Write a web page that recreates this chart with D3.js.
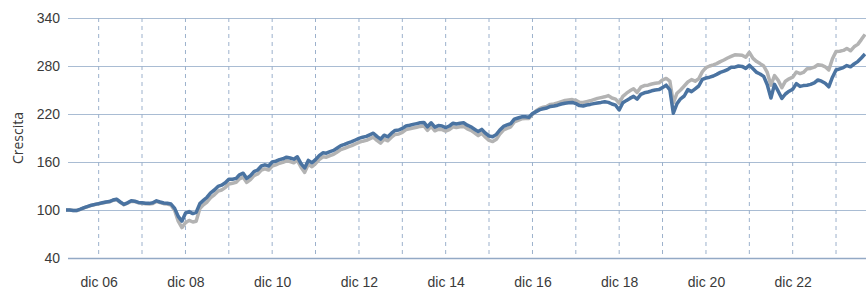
<!DOCTYPE html>
<html>
<head>
<meta charset="utf-8">
<script src="https://cdn.jsdelivr.net/npm/d3@7"></script>
<style>
  body { margin: 0; background: #fff; }
  svg { display: block; font-family: "Open Sans", sans-serif; }
</style>
</head>
<body>
<svg></svg>
<script>
// monthly values, Mar 2006 .. Aug 2024
const fundValues = [
  100, 100, 99.5, 99.5, 101, 103, 104.5, 106, 107, 108,                      // 2006
  109, 110, 110.5, 112.5, 113.5, 110, 107, 109, 111.5, 111, 109.5, 109,      // 2007
  108.5, 108.3, 109, 111.5, 110, 108.8, 108.5, 107.5, 102, 92, 86, 96,       // 2008
  98, 95.5, 97, 108, 112, 116, 121.5, 125, 129.5, 131, 134, 138.5,           // 2009
  138.5, 139.5, 144, 146, 139.5, 143, 148, 150, 155, 156.5, 155, 160,        // 2010
  161, 163, 164, 166, 165, 163.5, 166.5, 158, 152.5, 162, 159, 163,          // 2011
  168, 171.5, 171, 173, 174.5, 177.5, 180.5, 182, 184, 185.4, 187.5, 189.6,  // 2012
  191, 192, 194, 196, 192, 188.5, 193.5, 191.5, 196, 199.5, 200, 202,        // 2013
  205, 206, 207, 208, 209, 209.5, 204, 209, 203.5, 205.5, 205, 203,          // 2014
  205, 208.5, 207.5, 208.5, 209, 206, 204, 201, 198, 200.8, 196, 192.5,      // 2015
  191.5, 194.5, 200, 204.5, 206.3, 208, 213.5, 215, 216.5, 216.5, 216, 220.5,// 2016
  223, 225.5, 226.5, 227.5, 229.5, 230, 231, 232.5, 233.5, 234, 234.5, 233,  // 2017
  230.5, 230, 231.3, 232, 233, 233.8, 234.5, 235.4, 234.5, 232.5, 231, 225,  // 2018
  234, 237, 239.5, 242, 238.5, 244.5, 246.5, 247.5, 249, 250, 250.5, 253,    // 2019
  256, 250, 221, 233, 239, 242.5, 250.5, 248, 251.5, 255, 263.4, 265,        // 2020
  266, 267.5, 269.5, 272, 273.5, 275.5, 278.5, 278.5, 280, 279.5, 277, 281,  // 2021
  276.5, 272, 270, 267, 256.5, 240, 257, 248.5, 239.5, 245, 248.5, 251,      // 2022
  258, 254.5, 255.5, 256, 257, 259, 262.5, 261, 258.5, 254, 266, 275,        // 2023
  276.5, 278, 280.5, 279, 282.5, 285.5, 290, 295                             // 2024
];

const benchValues = [
  100, 100, 99.5, 99.3, 100.8, 102.8, 104.2, 105.8, 106.8, 107.7,
  108.7, 109.6, 110.2, 112.1, 113.1, 109.6, 106.6, 108.5, 111, 110.5, 109, 108.4,
  107.8, 107.5, 108.2, 110.8, 109.2, 107.9, 107.5, 106.3, 99.5, 86, 78, 84,
  87, 85, 86, 102, 106.5, 110, 115.5, 119, 123.5, 125, 128, 132.5,
  133.5, 134.5, 139, 141, 134.5, 138, 143, 145, 150, 151.5, 150, 155,
  156.5, 158.5, 159.5, 161.5, 160.5, 159, 162, 153.5, 147, 157, 154, 158,
  163, 166.5, 166, 168, 169.5, 172.5, 175.5, 177, 179, 180.4, 182.5, 184.6,
  186, 187, 189, 191, 187, 183.5, 188.5, 186.5, 191, 194.5, 195, 197,
  200.5, 201.5, 202.5, 203.5, 204.5, 205, 199.5, 204.5, 199, 201, 200.5, 198.5,
  200.5, 204, 203, 204, 204.5, 201.5, 199.5, 196.5, 193, 196, 191, 187,
  185.5, 188.5, 195, 200, 202, 204, 210, 212, 214, 214.5, 214.5, 219.5,
  224, 227, 228.5, 229.5, 232, 232.5, 234, 235.5, 237, 237.5, 238, 237,
  234.5, 234.5, 235.5, 236.5, 238, 239.5, 240.5, 241.5, 243, 240, 238.5, 233.5,
  242, 246, 249, 251.5, 247, 253.5, 255.5, 256, 257.5, 258.4, 259, 262.5,
  264.5, 261, 234, 246, 250, 255, 260, 263, 261, 264, 273, 278,
  280, 281.5, 283, 285.5, 287.5, 290, 292, 294, 293.8, 293.5, 291, 297,
  289.5, 285.5, 283, 280, 272, 256, 268, 262, 253, 261, 264, 266,
  272.5, 270.5, 272, 276.5, 277, 278.5, 281.5, 281, 279, 275, 289, 298,
  298.5, 299.5, 302, 299, 304, 307, 313, 319.5
];

const yTicks = [40, 100, 160, 220, 280, 340];
const gridYears = d3.range(2006, 2024);          // dashed line each December
const labelYears = [2006, 2008, 2010, 2012, 2014, 2016, 2018, 2020, 2022];

const months = d3.timeMonth.range(new Date(2006, 2, 1), new Date(2024, 8, 1));

const margin = { top: 18, right: 0, bottom: 33, left: 68 },
      width = 866 - margin.left - margin.right,
      height = 291 - margin.top - margin.bottom;

const svg = d3.select("svg")
    .attr("width", width + margin.left + margin.right)
    .attr("height", height + margin.top + margin.bottom)
    .append("g")
    .attr("transform", `translate(${margin.left},${margin.top})`);

const x = d3.scaleTime()
    .domain([months[0], months[months.length - 1]])
    .range([-2, width - 1]);

const y = d3.scaleLinear()
    .domain([40, 340])
    .range([height, 0]);

// horizontal grid + y labels
const yAxis = svg.append("g")
    .call(d3.axisLeft(y).tickValues(yTicks).tickSize(-width).tickPadding(8));
yAxis.select(".domain").remove();
yAxis.selectAll("line")
    .attr("stroke", d => d === 40 ? "#93a9c5" : "#a9bcd3")
    .attr("stroke-width", d => d === 40 ? 1.6 : 1.2);
yAxis.selectAll("text")
    .style("font-size", "14px")
    .attr("fill", "#3a3a3a");

// dashed yearly lines
svg.append("g")
    .selectAll("line")
    .data(gridYears)
    .enter()
    .append("line")
    .attr("x1", d => x(new Date(d, 11, 1)))
    .attr("x2", d => x(new Date(d, 11, 1)))
    .attr("y1", 0)
    .attr("y2", height)
    .attr("stroke", "#9cb1cc")
    .attr("stroke-width", 1)
    .attr("stroke-dasharray", "4,4");

// x labels
const xAxis = svg.append("g")
    .attr("transform", `translate(0,${height})`)
    .call(d3.axisBottom(x)
        .tickValues(labelYears.map(yr => new Date(yr, 11, 1)))
        .tickSize(0)
        .tickPadding(19)
        .tickFormat(d => "dic " + d3.timeFormat("%y")(d)));
xAxis.select(".domain").remove();
xAxis.selectAll("text")
    .style("font-size", "14px")
    .attr("fill", "#3a3a3a");

// y title
svg.append("text")
    .attr("text-anchor", "middle")
    .attr("transform", `translate(${23 - margin.left},${height / 2}) rotate(-90)`)
    .text("Crescita")
    .style("font-size", "14px")
    .attr("fill", "#3a3a3a");

const line = d3.line()
    .x((d, i) => x(months[i]))
    .y(d => y(d));

svg.append("path")
    .datum(benchValues)
    .attr("fill", "none")
    .attr("stroke", "#b3b3b3")
    .attr("stroke-width", 3.5)
    .attr("stroke-linejoin", "round")
    .attr("d", line);

svg.append("path")
    .datum(fundValues)
    .attr("fill", "none")
    .attr("stroke", "#4a73a1")
    .attr("stroke-width", 3.5)
    .attr("stroke-linejoin", "round")
    .attr("d", line);
</script>
</body>
</html>
